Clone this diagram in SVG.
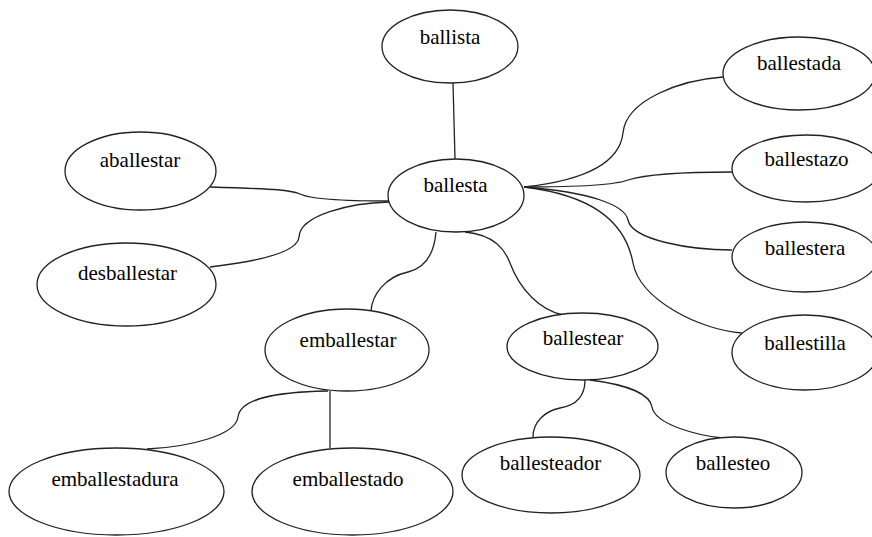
<svg xmlns="http://www.w3.org/2000/svg" width="872" height="537" viewBox="0 0 872 537">
<style>
.n ellipse{fill:#fff;stroke:#222;stroke-width:1.3}
.n text{font-family:"Liberation Serif","Times New Roman",serif;font-size:21px;fill:#000;text-anchor:middle}
#edges path{fill:none;stroke:#222;stroke-width:1.3}
</style>
<rect width="872" height="537" fill="#fff"/>
<g id="edges">
<path d="M453,83 L455,159"/>
<path d="M210,187 C280,189 290,190 300,194 C312,200 350,201 389,201"/>
<path d="M210,267 C270,260 298,250 299,237 C300,215 350,203 389,202"/>
<path d="M436,232 C434,255 425,268 408,272 C385,277 372,295 371,311"/>
<path d="M465,232 C495,235 505,250 510,263 C520,290 540,310 563,315"/>
<path d="M524,187 C590,180 620,160 623,133 C626,100 680,80 723,77"/>
<path d="M524,187 C580,187 615,185 628,180 C650,173 700,172 732,172"/>
<path d="M524,187 C590,192 625,205 628,220 C632,240 690,250 732,250"/>
<path d="M524,187 C590,195 625,220 633,263 C640,300 700,330 742,333"/>
<path d="M330,391 L330,448"/>
<path d="M328,391 C270,392 240,400 238,417 C236,435 190,447 147,449"/>
<path d="M585,380 C585,395 578,405 560,408 C545,411 533,422 533,437"/>
<path d="M590,380 C630,385 650,395 652,407 C655,425 700,436 723,438"/>
</g>
<g id="ballista" class="n"><ellipse cx="450" cy="46.5" rx="68" ry="36.5"/><text x="450" y="44">ballista</text></g>
<g id="ballesta" class="n"><ellipse cx="456" cy="195.5" rx="68" ry="36.5"/><text x="455.5" y="192">ballesta</text></g>
<g id="aballestar" class="n"><ellipse cx="140.5" cy="171" rx="75.5" ry="39"/><text x="140" y="167">aballestar</text></g>
<g id="desballestar" class="n"><ellipse cx="126.5" cy="284.5" rx="89.5" ry="41.5"/><text x="127.5" y="280">desballestar</text></g>
<g id="emballestar" class="n"><ellipse cx="347" cy="350" rx="82" ry="41"/><text x="348" y="347">emballestar</text></g>
<g id="ballestear" class="n"><ellipse cx="582.5" cy="346.5" rx="75.5" ry="33.5"/><text x="583" y="345">ballestear</text></g>
<g id="emballestadura" class="n"><ellipse cx="116.5" cy="491.5" rx="107.5" ry="43.5"/><text x="115" y="486">emballestadura</text></g>
<g id="emballestado" class="n"><ellipse cx="352.5" cy="491.5" rx="100.5" ry="43.5"/><text x="348" y="486">emballestado</text></g>
<g id="ballesteador" class="n"><ellipse cx="551" cy="475" rx="89" ry="38"/><text x="550.5" y="470">ballesteador</text></g>
<g id="ballesteo" class="n"><ellipse cx="734" cy="472.5" rx="68" ry="35.5"/><text x="733" y="470">ballesteo</text></g>
<g id="ballestada" class="n"><ellipse cx="799" cy="73.5" rx="76" ry="36.5"/><text x="799" y="70">ballestada</text></g>
<g id="ballestazo" class="n"><ellipse cx="806" cy="168.5" rx="74" ry="33.5"/><text x="806.5" y="166">ballestazo</text></g>
<g id="ballestera" class="n"><ellipse cx="805" cy="257" rx="73" ry="35"/><text x="805" y="255">ballestera</text></g>
<g id="ballestilla" class="n"><ellipse cx="805" cy="352.5" rx="73" ry="37.5"/><text x="805" y="350">ballestilla</text></g>
</svg>
